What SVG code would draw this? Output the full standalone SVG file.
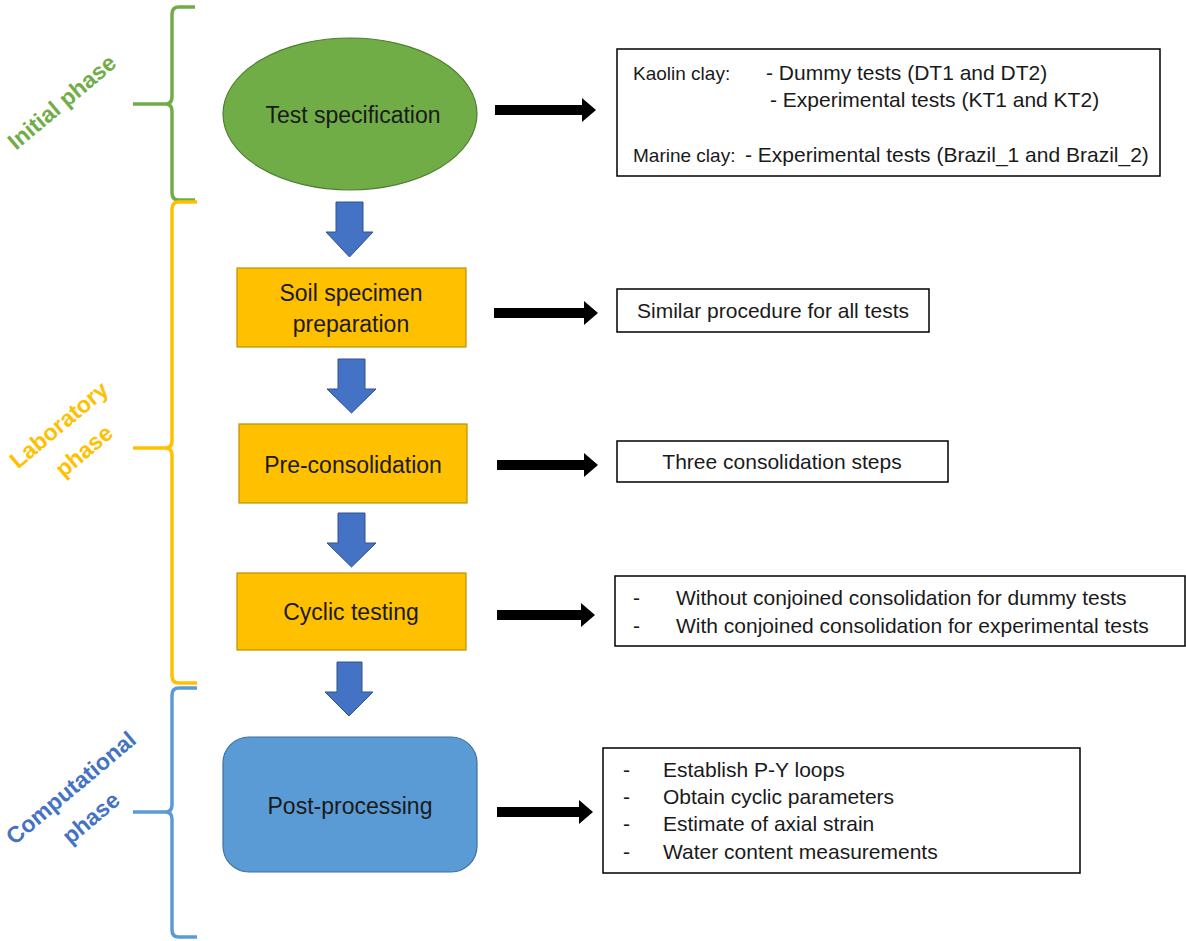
<svg xmlns="http://www.w3.org/2000/svg" width="1186" height="941" viewBox="0 0 1186 941">
<style>
.t{font-family:"Liberation Sans",Arial,sans-serif;fill:#1a1a1a}
.node{font-size:23px;text-anchor:middle}
.box{font-size:21px}
.lbl{font-size:19px}
.ph{font-family:"Liberation Sans",Arial,sans-serif;font-size:23px;font-weight:bold;text-anchor:middle}
.brace{fill:none;stroke-width:3.5;stroke-linejoin:round}
.info{fill:#fff;stroke:#000;stroke-width:1.5}
.orange{fill:#FFC000;stroke:#BF9000;stroke-width:1.2}
.down{fill:#4472C4;stroke:#2F528F;stroke-width:1}
.right{fill:#000}
</style>
<rect width="1186" height="941" fill="#fff"/>
<g id="phase-initial">
<path class="brace" stroke="#70AD47" d="M195,7 H179 Q172,7 172,14 V97 Q172,104 165,104 H133 M165,104 Q172,104 172,111 V193 Q172,200 179,200 H195"/>
<text class="ph" fill="#70AD47" transform="translate(67,108) rotate(-40)">Initial phase</text>
</g>
<g id="phase-laboratory">
<path class="brace" stroke="#FFC000" d="M197,202 H179 Q172,202 172,209 V441 Q172,448 165,448 H133 M165,448 Q172,448 172,455 V676 Q172,683 179,683 H197"/>
<text class="ph" fill="#FFC000" transform="translate(64,431) rotate(-40)">Laboratory</text>
<text class="ph" fill="#FFC000" transform="translate(89,457) rotate(-40)">phase</text>
</g>
<g id="phase-computational">
<path class="brace" stroke="#5B9BD5" d="M197,688 H179 Q172,688 172,695 V805 Q172,812 165,812 H133 M165,812 Q172,812 172,819 V930 Q172,937 179,937 H197"/>
<text class="ph" fill="#4472C4" transform="translate(76,794) rotate(-40)">Computational</text>
<text class="ph" fill="#4472C4" transform="translate(96,824) rotate(-40)">phase</text>
</g>
<g id="test-specification">
<ellipse cx="350" cy="114" rx="127" ry="76" fill="#70AD47" stroke="#507E32" stroke-width="1.2"/>
<text class="t node" x="353" y="123">Test specification</text>
</g>
<g id="soil-specimen-preparation">
<rect class="orange" x="237" y="268" width="229" height="79"/>
<text class="t node" x="351" y="301">Soil specimen</text>
<text class="t node" x="351" y="332">preparation</text>
</g>
<g id="pre-consolidation">
<rect class="orange" x="239" y="424" width="228" height="79"/>
<text class="t node" x="353" y="473">Pre-consolidation</text>
</g>
<g id="cyclic-testing">
<rect class="orange" x="237" y="573" width="229" height="77"/>
<text class="t node" x="351" y="620">Cyclic testing</text>
</g>
<g id="post-processing">
<rect x="223" y="737" width="254" height="135" rx="26" fill="#5B9BD5" stroke="#41719C" stroke-width="1.2"/>
<text class="t node" x="350" y="814">Post-processing</text>
</g>
<g id="info-test-specification">
<rect class="info" x="617" y="49" width="543" height="127"/>
<text class="t lbl" x="633" y="80">Kaolin clay:</text>
<text class="t box" x="766" y="80">- Dummy tests (DT1 and DT2)</text>
<text class="t box" x="770" y="107">- Experimental tests (KT1 and KT2)</text>
<text class="t lbl" x="633" y="162">Marine clay:</text>
<text class="t box" x="745" y="162">- Experimental tests (Brazil_1 and Brazil_2)</text>
</g>
<g id="info-soil">
<rect class="info" x="617" y="289" width="312" height="43"/>
<text class="t box" x="773" y="318" text-anchor="middle">Similar procedure for all tests</text>
</g>
<g id="info-preconsolidation">
<rect class="info" x="617" y="441" width="331" height="41"/>
<text class="t box" x="782" y="469" text-anchor="middle">Three consolidation steps</text>
</g>
<g id="info-cyclic">
<rect class="info" x="615" y="576" width="570" height="70"/>
<text class="t box" x="633" y="605">-</text>
<text class="t box" x="676" y="605">Without conjoined consolidation for dummy tests</text>
<text class="t box" x="633" y="633">-</text>
<text class="t box" x="676" y="633">With conjoined consolidation for experimental tests</text>
</g>
<g id="info-post">
<rect class="info" x="603" y="748" width="477" height="125"/>
<text class="t box" x="623" y="777">-</text>
<text class="t box" x="663" y="777">Establish P-Y loops</text>
<text class="t box" x="623" y="804">-</text>
<text class="t box" x="663" y="804">Obtain cyclic parameters</text>
<text class="t box" x="623" y="831">-</text>
<text class="t box" x="663" y="831">Estimate of axial strain</text>
<text class="t box" x="623" y="859">-</text>
<text class="t box" x="663" y="859">Water content measurements</text>
</g>
<g id="connectors">
<polygon class="down" points="336,202 363,202 363,232 373,232 349.5,257 326,232 336,232"/>
<polygon class="down" points="338,359 365,359 365,389 376,389 351.5,413 327,389 338,389"/>
<polygon class="down" points="338,513 365,513 365,543 376,543 351.5,567 327,543 338,543"/>
<polygon class="down" points="337,662 362,662 362,692 373,692 349,716 325,692 337,692"/>
<polygon class="right" points="495,105 582,105 582,98 596,110 582,122 582,115 495,115"/>
<polygon class="right" points="494,308 584,308 584,301 598,313 584,325 584,318 494,318"/>
<polygon class="right" points="497,460 584,460 584,453 598,465 584,477 584,470 497,470"/>
<polygon class="right" points="497,610 581,610 581,603 595,615 581,627 581,620 497,620"/>
<polygon class="right" points="497,807 579,807 579,800 593,812 579,824 579,817 497,817"/>
</g>
</svg>
